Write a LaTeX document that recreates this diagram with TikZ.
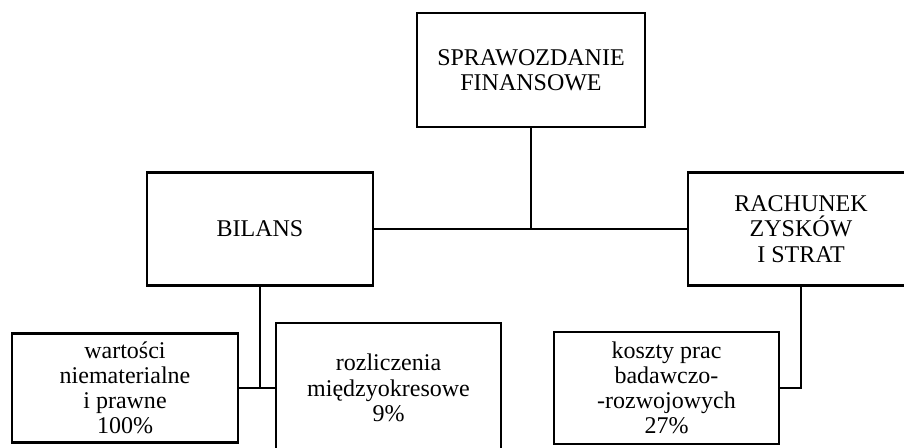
\documentclass[tikz,border=0pt]{standalone}
\usepackage{fontspec}
\setmainfont{Liberation Serif}
\usetikzlibrary{positioning}

\tikzset{
  box/.style={draw, line width=1.4pt, align=center, inner sep=0pt,
    font=\fontsize{12}{12.6}\selectfont},
  link/.style={line width=0.9pt}
}

\begin{document}
\begin{tikzpicture}[x=0.5pt, y=-0.5pt]
    % Frame of the picture
    \path[use as bounding box] (0,0) rectangle (904,448);

    % Top level
    \node[box, minimum width=114pt, minimum height=57pt] (spraw) at (531,70) {SPRAWOZDANIE\\FINANSOWE};

    % Second level
    \node[box, minimum width=113pt, minimum height=56.5pt] (bilans) at (260,229) {BILANS};
    \node[box, minimum width=113pt, minimum height=56.5pt] (rachunek) at (801,229) {RACHUNEK\\ZYSKÓW\\I STRAT};

    % Third level
    \node[box, minimum width=113pt, minimum height=54.5pt] (wartosci) at (125,388) {wartości\\niematerialne\\i prawne\\100\%};
    \node[box, minimum width=112.5pt, minimum height=65pt] (rozlicz) at (388.5,388) {rozliczenia\\międzyokresowe\\9\%};
    \node[box, minimum width=112.5pt, minimum height=56pt] (koszty) at (666.5,388) {koszty prac\\badawczo-\\-rozwojowych\\27\%};

    % Connectors
    \draw[link] (bilans.east) -- (rachunek.west);
    \draw[link] (spraw.south) -- (spraw.south |- bilans.east);
    \draw[link] (bilans.south) -- (bilans.south |- wartosci.east);
    \draw[link] (wartosci.east) -- (rozlicz.west);
    \draw[link] (rachunek.south) |- (koszty.east);
\end{tikzpicture}
\end{document}
